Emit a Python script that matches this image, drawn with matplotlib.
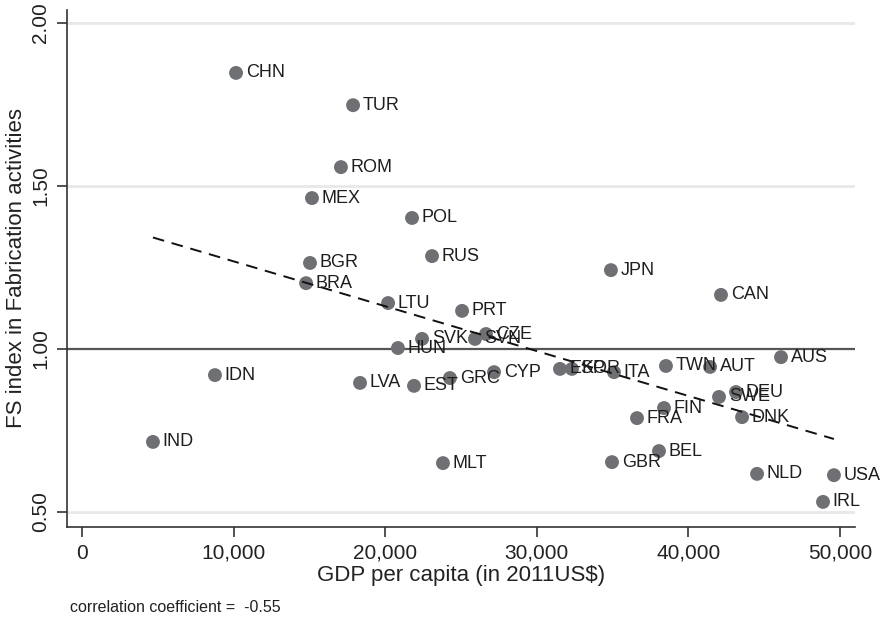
import numpy as np
import matplotlib
matplotlib.use("Agg")
import matplotlib.pyplot as plt

plt.rcParams['font.family'] = ['Liberation Sans', 'DejaVu Sans']

# country codes, GDP per capita (2011US$), FS index in fabrication activities
countries = ['CHN', 'TUR', 'ROM', 'MEX', 'POL', 'RUS', 'BGR', 'BRA', 'JPN', 'CAN',
             'LTU', 'PRT', 'CZE', 'SVN', 'SVK', 'HUN', 'IDN', 'IND', 'LVA', 'EST',
             'GRC', 'CYP', 'MLT', 'ESP', 'KOR', 'ITA', 'TWN', 'AUT', 'AUS', 'DEU',
             'SWE', 'FIN', 'FRA', 'DNK', 'BEL', 'GBR', 'NLD', 'USA', 'IRL']
gdp = [10160, 17880, 17080, 15170, 21770, 23090, 15040, 14780, 34890, 42150,
       20190, 25070, 26650, 25920, 22430, 20840, 8770, 4680, 18340, 21900,
       24270, 27180, 23810, 31530, 32320, 35090, 38520, 41430, 46110, 43140,
       42020, 38390, 36610, 43540, 38060, 34960, 44530, 49600, 48880]
fs_index = [1.847, 1.748, 1.558, 1.463, 1.402, 1.285, 1.264, 1.202, 1.242, 1.166,
            1.141, 1.117, 1.046, 1.031, 1.031, 1.003, 0.920, 0.715, 0.896, 0.887,
            0.911, 0.929, 0.650, 0.939, 0.939, 0.929, 0.948, 0.945, 0.975, 0.868,
            0.853, 0.819, 0.788, 0.791, 0.687, 0.653, 0.617, 0.613, 0.531]

x_ticks = [0, 10000, 20000, 30000, 40000, 50000]
y_ticks = [0.5, 1.0, 1.5, 2.0]

x = np.array(gdp)
y = np.array(fs_index)

fig = plt.figure(figsize=(8.86, 6.19), dpi=100)
ax = fig.add_axes([67 / 886, 1 - 527 / 619, (855 - 67) / 886, (527 - 10) / 619])

# light gridlines, dark reference line at 1
for yt in [0.5, 1.5, 2.0]:
    ax.axhline(yt, color='#e8e8e8', lw=2, zorder=0)
ax.axhline(1.0, color='#555555', lw=1.6, zorder=1)

# linear fit
fit = np.poly1d(np.polyfit(x, y, 1))
xs = np.array([x.min(), x.max()])
ax.plot(xs, fit(xs), color='#111111', lw=1.4, ls=(0, (6, 4)), zorder=3)

ax.scatter(x, y, s=100, color='#6f7073', edgecolors='none', zorder=2)
for c, xi, yi in zip(countries, x, y):
    ax.annotate(c, (xi, yi), xytext=(7, 0), textcoords='offset points',
                va='center', ha='left', fontsize=13, color='#1e1e1e', zorder=4)

ax.set_xlim(-990, 50990)
ax.set_ylim(0.454, 2.04)
ax.set_xticks(x_ticks)
ax.set_xticklabels([f'{t:,}' for t in x_ticks])
ax.set_yticks(y_ticks)
ax.set_yticklabels([f'{t:.2f}' for t in y_ticks], rotation=90, va='center')
ax.tick_params(axis='both', labelsize=15, colors='#222222', length=7, width=1.1)
ax.tick_params(axis='x', pad=5)
ax.tick_params(axis='y', pad=5)

for s in ['top', 'right']:
    ax.spines[s].set_visible(False)
for s in ['left', 'bottom']:
    ax.spines[s].set_color('#333333')
    ax.spines[s].set_linewidth(1.2)

ax.set_xlabel('GDP per capita (in 2011US$)', fontsize=16, color='#222222', labelpad=2)
ax.set_ylabel('FS index in Fabrication activities', fontsize=16, color='#222222', labelpad=3)

fig.text(70 / 886, 1 - 607 / 619, 'correlation coefficient =  -0.55',
         fontsize=11.5, color='#222222', va='center')

fig.savefig('out.png', dpi=100)
